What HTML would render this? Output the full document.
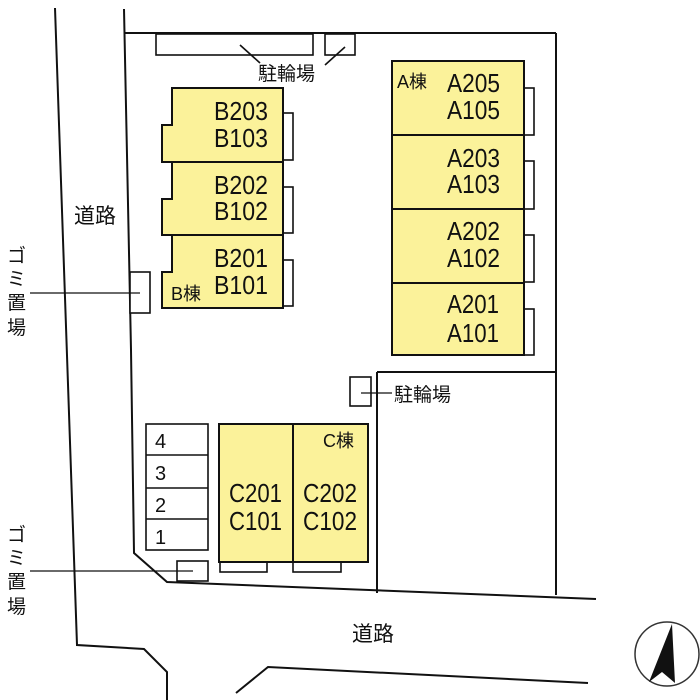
<!DOCTYPE html>
<html><head><meta charset="utf-8"><style>
html,body{margin:0;padding:0;background:#fff;}
svg{display:block;}
text{font-family:"Liberation Sans","Noto Sans CJK JP",sans-serif;fill:#111;}
</style></head><body>
<svg width="700" height="700" viewBox="0 0 700 700" xmlns="http://www.w3.org/2000/svg">
<g fill="none" stroke="#111" stroke-width="2">
<polyline points="55,8 77,645 144,649 167,672 167,700"/>
<polyline points="236,693 268,667 588,683"/>
<polyline points="124,9 131,350 134,553 167,582 596,599"/>
<line x1="124" y1="33" x2="556" y2="33"/>
<line x1="556" y1="33" x2="556" y2="595"/>
<line x1="377" y1="372" x2="556" y2="372"/>
<line x1="377" y1="372" x2="377" y2="593"/>
</g>
<g fill="#fff" stroke="#111" stroke-width="1.6">
<rect x="156" y="34" width="157" height="21"/>
<rect x="325" y="34" width="30" height="21"/>
<rect x="130" y="272" width="20" height="41"/>
<rect x="350" y="377" width="21" height="29"/>
<rect x="177" y="561" width="31" height="20"/>
<rect x="283" y="113" width="10" height="47"/>
<rect x="283" y="187" width="10" height="46"/>
<rect x="283" y="260" width="10" height="46"/>
<rect x="524" y="88" width="10" height="47"/>
<rect x="524" y="161" width="10" height="48"/>
<rect x="524" y="235" width="10" height="47"/>
<rect x="524" y="309" width="10" height="46"/>
<rect x="220" y="562" width="47" height="10"/>
<rect x="293" y="562" width="48" height="10"/>
<rect x="146" y="424" width="62" height="126"/>
</g>
<g stroke="#111" stroke-width="1.6">
<line x1="146" y1="455" x2="208" y2="455"/>
<line x1="146" y1="488" x2="208" y2="488"/>
<line x1="146" y1="519" x2="208" y2="519"/>
<line x1="240" y1="45" x2="260" y2="63"/>
<line x1="345" y1="47" x2="325" y2="65"/>
<line x1="30" y1="293" x2="140" y2="293" stroke-width="1.3"/>
<line x1="30" y1="571" x2="193" y2="571" stroke-width="1.3"/>
<line x1="361" y1="393" x2="392" y2="393" stroke-width="1.3"/>
</g>
<g fill="#fbf29a" stroke="#111" stroke-width="2">
<polygon points="172,88 283,88 283,162 162,162 162,125 172,125"/>
<polygon points="172,162 283,162 283,235 162,235 162,199 172,199"/>
<polygon points="172,235 283,235 283,308 162,308 162,272 172,272"/>
<rect x="392" y="61" width="132" height="74"/>
<rect x="392" y="135" width="132" height="74"/>
<rect x="392" y="209" width="132" height="74"/>
<rect x="392" y="283" width="132" height="72"/>
<rect x="219" y="424" width="74" height="138"/>
<rect x="293" y="424" width="75" height="138"/>
</g>
<g font-size="26" lengthAdjust="spacingAndGlyphs">
<text x="214" y="120" textLength="54" lengthAdjust="spacingAndGlyphs">B203</text><text x="214" y="147" textLength="54" lengthAdjust="spacingAndGlyphs">B103</text>
<text x="214" y="194" textLength="54" lengthAdjust="spacingAndGlyphs">B202</text><text x="214" y="220" textLength="54" lengthAdjust="spacingAndGlyphs">B102</text>
<text x="214" y="267" textLength="54" lengthAdjust="spacingAndGlyphs">B201</text><text x="214" y="294" textLength="54" lengthAdjust="spacingAndGlyphs">B101</text>
<text x="447" y="92" textLength="53" lengthAdjust="spacingAndGlyphs">A205</text><text x="447" y="119" textLength="53" lengthAdjust="spacingAndGlyphs">A105</text>
<text x="447" y="167" textLength="53" lengthAdjust="spacingAndGlyphs">A203</text><text x="447" y="193" textLength="53" lengthAdjust="spacingAndGlyphs">A103</text>
<text x="447" y="240" textLength="53" lengthAdjust="spacingAndGlyphs">A202</text><text x="447" y="267" textLength="53" lengthAdjust="spacingAndGlyphs">A102</text>
<text x="447" y="313" textLength="52" lengthAdjust="spacingAndGlyphs">A201</text><text x="447" y="342" textLength="52" lengthAdjust="spacingAndGlyphs">A101</text>
<text x="229" y="502" textLength="53" lengthAdjust="spacingAndGlyphs">C201</text><text x="229" y="530" textLength="53" lengthAdjust="spacingAndGlyphs">C101</text>
<text x="303" y="502" textLength="54" lengthAdjust="spacingAndGlyphs">C202</text><text x="303" y="530" textLength="54" lengthAdjust="spacingAndGlyphs">C102</text>
</g>
<g font-size="18">
<text x="171" y="300">B棟</text>
<text x="397" y="88">A棟</text>
<text x="323" y="447">C棟</text>
<text x="155" y="448" font-size="20">4</text><text x="155" y="480" font-size="20">3</text>
<text x="155" y="512" font-size="20">2</text><text x="155" y="544" font-size="20">1</text>
</g>
<g font-size="19">
<text x="258" y="80">駐輪場</text>
<text x="394" y="401">駐輪場</text>
<text x="74" y="223" font-size="21">道路</text>
<text x="352" y="641" font-size="21">道路</text>
<text x="7" y="262">ゴ</text><text x="7" y="285">ミ</text><text x="7" y="309">置</text><text x="7" y="334">場</text>
<text x="7" y="541">ゴ</text><text x="7" y="564">ミ</text><text x="7" y="588">置</text><text x="7" y="613">場</text>
</g>
<ellipse cx="667" cy="654" rx="32" ry="32" fill="none" stroke="#333" stroke-width="1.5"/>
<polygon points="672,624 649,682 662,672 675,683" fill="#111"/>
</svg>
</body></html>
